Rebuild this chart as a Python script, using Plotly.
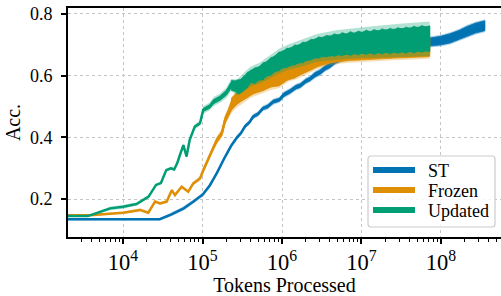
import plotly.graph_objects as go

# ---------------- data ----------------
# mean curves (coarse) with half-widths of the spread and of the light shading
st_tokens = [2.0e3, 2.9e4, 4.0e4, 5.8e4, 7.7e4, 1.01e5, 1.24e5, 1.52e5, 1.86e5, 2.28e5,
             2.72e5, 3.05e5, 3.43e5, 3.9e5, 4.32e5, 5.0e5, 5.75e5, 6.6e5, 7.8e5, 9.3e5,
             1.05e6, 1.26e6, 1.5e6, 1.7e6, 2.0e6, 2.24e6, 2.6e6, 3.0e6, 3.5e6, 4.0e6,
             4.7e6, 5.4e6, 7.0e6, 1.0e7, 1.5e7, 2.2e7, 3.2e7, 4.6e7, 7.2e7, 1.0e8,
             1.3e8, 1.7e8, 2.1e8, 2.7e8, 3.57e8]
st_acc = [0.135, 0.135, 0.150, 0.170, 0.192, 0.215, 0.245, 0.285, 0.330, 0.372,
          0.400, 0.414, 0.436, 0.449, 0.467, 0.476, 0.494, 0.500, 0.516, 0.522,
          0.538, 0.549, 0.563, 0.568, 0.583, 0.589, 0.603, 0.611, 0.625, 0.633,
          0.647, 0.655, 0.666, 0.675, 0.683, 0.690, 0.695, 0.700, 0.709, 0.714,
          0.721, 0.732, 0.743, 0.754, 0.762]
st_spread = [0, 0, 0, 0, 0, 0, 0, 0, 0.002, 0.002,
             0.003, 0.003, 0.003, 0.003, 0.004, 0.004, 0.004, 0.005, 0.005, 0.005,
             0.006, 0.006, 0.006, 0.006, 0.006, 0.006, 0.007, 0.007, 0.007, 0.007,
             0.007, 0.008, 0.008, 0.009, 0.010, 0.010, 0.011, 0.012, 0.013, 0.014,
             0.015, 0.015, 0.016, 0.016, 0.016]
st_std = [0.004, 0.004, 0.006, 0.007, 0.007, 0.007, 0.007, 0.007, 0.006, 0.006,
          0.005, 0.005, 0.005, 0.005, 0.005, 0.005, 0.005, 0.005, 0.005, 0.005,
          0.005, 0.005, 0.005, 0.005, 0.005, 0.005, 0.005, 0.005, 0.005, 0.005,
          0.005, 0.005, 0.005, 0.005, 0.005, 0.005, 0.005, 0.005, 0.005, 0.005,
          0.005, 0.005, 0.005, 0.005, 0.005]

fr_tokens = [2.0e3, 3.85e3, 1.0e4, 1.64e4, 2.08e4, 2.53e4, 2.92e4, 3.55e4, 4.1e4, 4.5e4,
             5.47e4, 6.62e4, 7.66e4, 9.3e4, 1.01e5, 1.13e5, 1.31e5, 1.51e5, 1.75e5, 1.92e5,
             2.11e5, 2.33e5, 2.7e5, 3.2e5, 4.0e5, 5.2e5, 7.1e5, 9.3e5, 1.2e6, 1.6e6,
             2.1e6, 2.75e6, 3.8e6, 5.0e6, 7.0e6, 1.0e7, 1.6e7, 2.5e7, 4.0e7, 5.6e7, 7.2e7]
fr_acc = [0.148, 0.148, 0.156, 0.165, 0.156, 0.192, 0.186, 0.192, 0.229, 0.213,
          0.240, 0.224, 0.251, 0.267, 0.290, 0.318, 0.359, 0.390, 0.413, 0.456,
          0.478, 0.505, 0.527, 0.540, 0.560, 0.572, 0.588, 0.595, 0.615, 0.626,
          0.641, 0.656, 0.669, 0.674, 0.679, 0.681, 0.685, 0.687, 0.689, 0.690, 0.692]
fr_spread = [0, 0, 0, 0, 0, 0, 0, 0, 0, 0,
             0, 0, 0, 0.002, 0.004, 0.005, 0.006, 0.007, 0.008, 0.010,
             0.012, 0.016, 0.020, 0.021, 0.022, 0.024, 0.025, 0.026, 0.027, 0.027,
             0.028, 0.028, 0.029, 0.029, 0.030, 0.030, 0.030, 0.030, 0.030, 0.030, 0.030]
fr_std = [0.003, 0.003, 0.004, 0.005, 0.005, 0.005, 0.005, 0.005, 0.005, 0.005,
          0.005, 0.005, 0.006, 0.006, 0.006, 0.006, 0.006, 0.007, 0.007, 0.008,
          0.008, 0.009, 0.010, 0.010, 0.010, 0.010, 0.010, 0.009, 0.008, 0.008,
          0.007, 0.007, 0.007, 0.007, 0.007, 0.007, 0.007, 0.007, 0.007, 0.007, 0.007]

up_tokens = [2.0e3, 3.6e3, 6.9e3, 1.0e4, 1.48e4, 2.1e4, 2.6e4, 3.0e4, 3.5e4, 4.0e4,
             4.4e4, 4.8e4, 5.2e4, 5.75e4, 6.3e4, 6.9e4, 8.0e4, 9.3e4, 1.02e5, 1.23e5,
             1.38e5, 1.66e5, 2.0e5, 2.3e5, 2.7e5, 3.2e5, 4.0e5, 5.2e5, 7.1e5, 9.3e5,
             1.2e6, 1.7e6, 2.75e6, 5.0e6, 1.0e7, 1.6e7, 3.0e7, 5.0e7, 7.2e7]
up_acc = [0.145, 0.145, 0.170, 0.175, 0.184, 0.208, 0.246, 0.252, 0.294, 0.300,
          0.296, 0.316, 0.343, 0.375, 0.338, 0.392, 0.435, 0.446, 0.489, 0.500,
          0.516, 0.527, 0.545, 0.570, 0.562, 0.575, 0.597, 0.608, 0.629, 0.648,
          0.660, 0.672, 0.690, 0.700, 0.707, 0.710, 0.714, 0.718, 0.720]
up_spread = [0, 0, 0, 0, 0, 0, 0, 0, 0, 0,
             0, 0, 0, 0, 0, 0, 0.002, 0.003, 0.005, 0.006,
             0.007, 0.007, 0.008, 0.010, 0.015, 0.019, 0.020, 0.022, 0.025, 0.027,
             0.028, 0.030, 0.031, 0.033, 0.035, 0.036, 0.038, 0.040, 0.040]
up_std = [0.003, 0.003, 0.006, 0.006, 0.005, 0.005, 0.005, 0.005, 0.005, 0.005,
          0.005, 0.005, 0.005, 0.005, 0.005, 0.005, 0.006, 0.006, 0.007, 0.007,
          0.008, 0.008, 0.009, 0.010, 0.011, 0.011, 0.012, 0.012, 0.012, 0.013,
          0.013, 0.014, 0.014, 0.015, 0.015, 0.016, 0.016, 0.016, 0.016]

# dense, noisy part of the curves: upper / lower envelope of the raw trace
# (positions as log10 of tokens)
up_noise_log = [5.36, 5.41, 5.46, 5.51, 5.56, 5.61, 5.66, 5.71, 5.76, 5.81,
                5.86, 5.91, 5.96, 6.01, 6.06, 6.11, 6.16, 6.21, 6.26, 6.31,
                6.36, 6.41, 6.46, 6.51, 6.56, 6.61, 6.66, 6.71, 6.76, 6.81,
                6.86, 6.91, 6.96, 7.01, 7.06, 7.11, 7.16, 7.21, 7.26, 7.31,
                7.36, 7.41, 7.46, 7.51, 7.56, 7.61, 7.66, 7.71, 7.76, 7.81, 7.86]
up_noise_hi = [0.585, 0.584, 0.588, 0.586, 0.610, 0.615, 0.626, 0.627, 0.642, 0.644,
               0.659, 0.661, 0.677, 0.676, 0.690, 0.687, 0.700, 0.697, 0.709, 0.707,
               0.718, 0.716, 0.726, 0.723, 0.731, 0.728, 0.736, 0.731, 0.740, 0.734,
               0.743, 0.737, 0.745, 0.740, 0.748, 0.742, 0.750, 0.744, 0.752, 0.747,
               0.754, 0.748, 0.756, 0.750, 0.758, 0.752, 0.761, 0.755, 0.763, 0.757, 0.762]
up_noise_lo = [0.552, 0.549, 0.540, 0.550, 0.560, 0.578, 0.574, 0.586, 0.586, 0.601,
               0.601, 0.615, 0.615, 0.628, 0.626, 0.637, 0.634, 0.645, 0.641, 0.653,
               0.650, 0.660, 0.656, 0.665, 0.660, 0.668, 0.662, 0.669, 0.664, 0.672,
               0.665, 0.673, 0.667, 0.674, 0.668, 0.676, 0.668, 0.676, 0.670, 0.677,
               0.670, 0.678, 0.672, 0.678, 0.672, 0.680, 0.673, 0.681, 0.675, 0.683, 0.678]

fr_noise_log = [5.36, 5.46, 5.56, 5.66, 5.76, 5.86, 5.96, 6.06, 6.16, 6.26,
                6.36, 6.46, 6.56, 6.66, 6.76, 6.86, 6.96, 7.06, 7.16, 7.26,
                7.36, 7.46, 7.56, 7.66, 7.76, 7.86]
fr_noise_hi = [0.527, 0.550, 0.568, 0.589, 0.600, 0.613, 0.620, 0.638, 0.649, 0.663,
               0.673, 0.685, 0.693, 0.700, 0.704, 0.708, 0.710, 0.712, 0.714, 0.715,
               0.716, 0.717, 0.718, 0.719, 0.720, 0.722]
fr_noise_lo = [0.492, 0.514, 0.528, 0.545, 0.551, 0.564, 0.567, 0.585, 0.592, 0.610,
               0.618, 0.634, 0.640, 0.648, 0.650, 0.655, 0.652, 0.658, 0.655, 0.660,
               0.657, 0.662, 0.659, 0.664, 0.661, 0.665]

series_names = ["ST", "Frozen", "Updated"]
series_colors = ["#0173B2", "#DE8F05", "#029E73"]
series_light = ["rgba(1,115,178,0.3)", "rgba(222,143,5,0.3)", "rgba(2,158,115,0.3)"]

y_ticks = [0.2, 0.4, 0.6, 0.8]
y_tick_text = ["0.2", "0.4", "0.6", "0.8"]

FONT = "Liberation Serif"

# plot-area geometry in pixels (used to place the hand-built legend)
W, H = 501, 296
ML, MR, MT, MB = 68, 0, 8, 59
PW, PH = W - ML - MR, H - MT - MB

fig = go.Figure()


def add_series(tokens, acc, spread, std, color, light, noise=None):
    hi2 = [a + s + d for a, s, d in zip(acc, spread, std)]
    lo2 = [a - s - d for a, s, d in zip(acc, spread, std)]
    fig.add_trace(go.Scatter(x=tokens + tokens[::-1], y=hi2 + lo2[::-1], mode="lines",
                             fill="toself", fillcolor=light, line=dict(width=0),
                             hoverinfo="skip", showlegend=False))
    hi = [a + s for a, s in zip(acc, spread)]
    lo = [a - s for a, s in zip(acc, spread)]
    fig.add_trace(go.Scatter(x=tokens + tokens[::-1], y=hi + lo[::-1], mode="lines",
                             fill="toself", fillcolor=color, line=dict(width=0.8, color=color),
                             hoverinfo="skip", showlegend=False))
    fig.add_trace(go.Scatter(x=tokens, y=acc, mode="lines", name="",
                             line=dict(color=color, width=2.5), showlegend=False))
    if noise is not None:
        nlog, nhi, nlo = noise
        ntok = [10 ** v for v in nlog]
        fig.add_trace(go.Scatter(x=ntok + ntok[::-1], y=nhi + nlo[::-1], mode="lines",
                                 fill="toself", fillcolor=color,
                                 line=dict(width=0.6, color=color),
                                 hoverinfo="skip", showlegend=False))


add_series(st_tokens, st_acc, st_spread, st_std, series_colors[0], series_light[0])
add_series(fr_tokens, fr_acc, fr_spread, fr_std, series_colors[1], series_light[1],
           (fr_noise_log, fr_noise_hi, fr_noise_lo))
add_series(up_tokens, up_acc, up_spread, up_std, series_colors[2], series_light[2],
           (up_noise_log, up_noise_hi, up_noise_lo))


# ---------------- legend (drawn with shapes / annotations, paper coords) -------------
def px_x(p):
    return (p - ML) / PW


def px_y(p):
    return (H - MB - p) / PH


bx0, bx1, by0, by1, rad = 368, 495, 156, 227, 3
rx, ry = rad / PW, rad / PH
X0, X1, Y0, Y1 = px_x(bx0), px_x(bx1), px_y(by1), px_y(by0)
box_path = (f"M{X0 + rx},{Y0} L{X1 - rx},{Y0} Q{X1},{Y0} {X1},{Y0 + ry} "
            f"L{X1},{Y1 - ry} Q{X1},{Y1} {X1 - rx},{Y1} L{X0 + rx},{Y1} "
            f"Q{X0},{Y1} {X0},{Y1 - ry} L{X0},{Y0 + ry} Q{X0},{Y0} {X0 + rx},{Y0} Z")
shapes = [dict(type="path", xref="paper", yref="paper", path=box_path,
               fillcolor="rgba(255,255,255,0.85)", line=dict(color="#cccccc", width=1.2),
               layer="above")]
annotations = []
for i, (name, color) in enumerate(zip(series_names, series_colors)):
    row = 170 + 20 * i
    shapes.append(dict(type="line", xref="paper", yref="paper",
                       x0=px_x(373), x1=px_x(415), y0=px_y(row), y1=px_y(row),
                       line=dict(color=color, width=6), layer="above"))
    annotations.append(dict(text=name, xref="paper", yref="paper",
                            x=px_x(426), y=px_y(row + 1), xanchor="left", yanchor="middle",
                            showarrow=False, font=dict(family=FONT, size=18, color="black")))

fig.update_layout(
    width=W, height=H,
    margin=dict(l=ML, r=MR, t=MT, b=MB, autoexpand=False),
    paper_bgcolor="white", plot_bgcolor="white",
    font=dict(family=FONT, size=18, color="black"),
    showlegend=False,
    shapes=shapes, annotations=annotations,
)

fig.update_xaxes(
    type="log", range=[3.308, 8.755], dtick=1, exponentformat="power",
    automargin=False,
    showline=True, linecolor="black", linewidth=2, mirror=True,
    ticks="outside", ticklen=5, tickwidth=1.5, tickcolor="black",
    showgrid=True, gridcolor="#c4c4c4", griddash="dot", gridwidth=1,
    minor=dict(ticks="outside", ticklen=3, tickwidth=1, tickcolor="black", dtick="D1",
               showgrid=False),
    zeroline=False,
    tickfont=dict(family=FONT, size=18),
    title=dict(text="Tokens Processed", font=dict(family=FONT, size=20), standoff=2),
)
fig.update_yaxes(
    range=[0.0772, 0.8194], tickvals=y_ticks, ticktext=y_tick_text,
    automargin=False,
    showline=True, linecolor="black", linewidth=2, mirror=False,
    ticks="outside", ticklen=5, tickwidth=1.5, tickcolor="black",
    ticklabelstandoff=5,
    showgrid=True, gridcolor="#c4c4c4", griddash="dot", gridwidth=1,
    zeroline=False,
    tickfont=dict(family=FONT, size=18),
    title=dict(text="Acc.", font=dict(family=FONT, size=20), standoff=4),
)

fig.write_html("out.html", config={"displayModeBar": False},
               post_script="document.body.style.margin='0';document.body.style.padding='0';")
